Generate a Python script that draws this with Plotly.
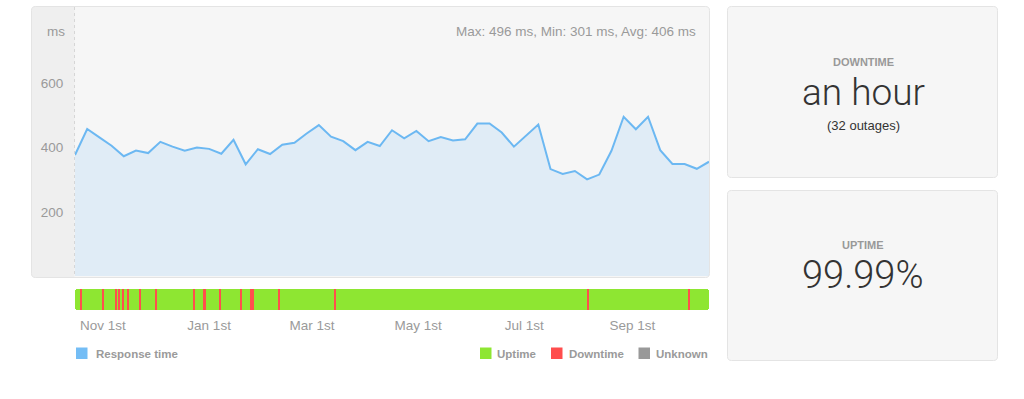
import plotly.graph_objects as go
import pandas as pd

W, H = 1024, 399

# ---------------- data ----------------
start_date = "2018-10-16"
end_date = "2019-10-15"
response_ms = [377, 458, 432, 406, 373, 391, 383, 418, 403, 390, 400, 396, 381, 424,
               348, 395, 380, 409, 415, 444, 470, 434, 420, 392, 418, 405, 454, 429,
               452, 420, 433, 422, 426, 475, 475, 447, 403, 439, 472, 333, 318, 327,
               301, 316, 390, 496, 457, 496, 392, 349, 349, 334, 356]
week_dates = pd.date_range(start_date, periods=len(response_ms), freq="7D")

downtime_times = ["2018-10-19", "2018-11-01", "2018-11-08", "2018-11-10", "2018-11-12",
                  "2018-11-15", "2018-11-22", "2018-12-01", "2018-12-23", "2018-12-29 00:00",
                  "2018-12-29 14:00", "2019-01-07", "2019-01-19", "2019-01-25 00:00",
                  "2019-01-25 20:00", "2019-02-10", "2019-03-14", "2019-08-06", "2019-10-03"]

tick_dates = ["2018-11-01", "2019-01-01", "2019-03-01", "2019-05-01", "2019-07-01", "2019-09-01"]
tick_labels = ["Nov 1st", "Jan 1st", "Mar 1st", "May 1st", "Jul 1st", "Sep 1st"]
y_ticks = [200, 400, 600]

downtime_label = "an hour"
outages = 32
uptime_pct = "99.99%"

# ---------------- style ----------------
FONT = "Liberation Sans, Arial, sans-serif"
BIG_FONT = "Roboto, Liberation Sans, sans-serif"
GRAY = "#9a9a9a"
LINE = "#6cb8f2"
FILL = "#e0ecf6"
GREEN = "#8ee632"
RED = "#ff4d4d"
MARK_DAYS = 0.6
DAY_MS = 86400000


def px(x):
    return x / W


def py(y):
    return 1 - y / H


def P(x, y):
    return f"{px(x):.5f},{py(y):.5f}"


def rrect(x0, y0, x1, y1, r):
    return (f"M{P(x0 + r, y0)} L{P(x1 - r, y0)} Q{P(x1, y0)} {P(x1, y0 + r)} "
            f"L{P(x1, y1 - r)} Q{P(x1, y1)} {P(x1 - r, y1)} L{P(x0 + r, y1)} "
            f"Q{P(x0, y1)} {P(x0, y1 - r)} L{P(x0, y0 + r)} Q{P(x0, y0)} {P(x0 + r, y0)} Z")


def lrect(x0, y0, x1, y1, r):
    return (f"M{P(x0 + r, y0)} L{P(x1, y0)} L{P(x1, y1)} L{P(x0 + r, y1)} "
            f"Q{P(x0, y1)} {P(x0, y1 - r)} L{P(x0, y0 + r)} Q{P(x0, y0)} {P(x0 + r, y0)} Z")


fig = go.Figure()

# response time area
fig.add_trace(go.Scatter(
    x=week_dates, y=response_ms, mode="lines", fill="tozeroy",
    line=dict(color=LINE, width=2), fillcolor=FILL,
    xaxis="x", yaxis="y", showlegend=False, hoverinfo="x+y"))

# uptime bar
span_ms = (pd.Timestamp(end_date) - pd.Timestamp(start_date)).total_seconds() * 1000
fig.add_trace(go.Bar(
    y=[0], base=[start_date], x=[span_ms], orientation="h", width=1,
    marker=dict(color=GREEN, line=dict(width=0), cornerradius=3),
    xaxis="x2", yaxis="y2", showlegend=False, hoverinfo="skip"))
fig.add_trace(go.Bar(
    y=[0] * len(downtime_times), base=downtime_times,
    x=[MARK_DAYS * DAY_MS] * len(downtime_times), orientation="h", width=1,
    marker=dict(color=RED, line=dict(width=0)),
    xaxis="x2", yaxis="y2", showlegend=False, hoverinfo="skip"))

shapes = []
# chart panel
shapes.append(dict(type="path", xref="paper", yref="paper", path=rrect(31.5, 6.5, 709.5, 277.5, 4),
                   fillcolor="#f6f6f6", line=dict(width=0), layer="below"))
shapes.append(dict(type="path", xref="paper", yref="paper", path=lrect(31.5, 6.5, 74.5, 277.5, 4),
                   fillcolor="#efefef", line=dict(width=0), layer="below"))
shapes.append(dict(type="line", xref="paper", yref="paper", x0=px(74.5), x1=px(74.5),
                   y0=py(7), y1=py(277), line=dict(color="#d6d6d6", width=1, dash="dot"),
                   layer="below"))
shapes.append(dict(type="path", xref="paper", yref="paper", path=rrect(31.5, 6.5, 709.5, 277.5, 4),
                   fillcolor="rgba(0,0,0,0)", line=dict(color="#e4e4e4", width=1), layer="above"))
# right panels
for (y0, y1) in [(6.5, 177.5), (190.5, 360.5)]:
    shapes.append(dict(type="path", xref="paper", yref="paper", path=rrect(727.5, y0, 997.5, y1, 4),
                       fillcolor="#f6f6f6", line=dict(color="#e4e4e4", width=1), layer="below"))
# legend squares
for (x0, c) in [(76, "#74bdf5"), (480, GREEN), (551, RED), (638.5, "#999999")]:
    shapes.append(dict(type="rect", xref="paper", yref="paper", x0=px(x0), x1=px(x0 + 11.5),
                       y0=py(359), y1=py(347.5), fillcolor=c, line=dict(width=0)))

ann = []


def txt(t, x, y, size, color=GRAY, xanchor="center", bold=False, family=FONT, weight=None):
    f = dict(family=family, size=size, color=color)
    if weight is not None:
        f["weight"] = weight
    ann.append(dict(text=f"<b>{t}</b>" if bold else t, x=px(x), y=py(y), xref="paper", yref="paper",
                    xanchor=xanchor, yanchor="middle", showarrow=False, font=f))


stats = f"Max: {max(response_ms)} ms, Min: {min(response_ms)} ms, Avg: {round(sum(response_ms) / len(response_ms))} ms"
txt(stats, 698, 31, 13.5, xanchor="right")
txt("ms", 67, 31, 13.5, xanchor="right")

txt("Response time", 94, 353.5, 11.5, xanchor="left", bold=True)
txt("Uptime", 495, 353.5, 11.5, xanchor="left", bold=True)
txt("Downtime", 567, 353.5, 11.5, xanchor="left", bold=True)
txt("Unknown", 654, 353.5, 11.5, xanchor="left", bold=True)

txt("DOWNTIME", 863, 62, 11, color="#999999", bold=True)
txt(downtime_label, 863, 93, 37, color="#333333", family=BIG_FONT, weight=300)
txt(f"({outages} outages)", 863, 125.5, 13, color="#333333")
txt("UPTIME", 863, 244.5, 11, color="#999999", bold=True)
txt(uptime_pct, 863, 274.5, 38, color="#333333", family=BIG_FONT, weight=300)

fig.update_layout(
    width=W, height=H, margin=dict(l=0, r=0, t=0, b=0),
    paper_bgcolor="white", plot_bgcolor="rgba(0,0,0,0)",
    barmode="overlay", bargap=0, showlegend=False,
    shapes=shapes, annotations=ann,
    font=dict(family=FONT, color=GRAY),
    xaxis=dict(domain=[px(75), px(709)], range=[start_date, end_date], type="date",
               showgrid=False, zeroline=False, showline=False, showticklabels=False,
               anchor="y"),
    yaxis=dict(domain=[py(276), py(7)], range=[0, 838], showgrid=False, zeroline=False,
               showline=False, tickvals=y_ticks, ticks="outside", ticklen=8,
               tickcolor="rgba(0,0,0,0)", tickfont=dict(family=FONT, size=13.5, color=GRAY),
               anchor="x"),
    xaxis2=dict(domain=[px(75), px(709)], range=[start_date, end_date], type="date",
                showgrid=False, zeroline=False, showline=False,
                tickvals=tick_dates, ticktext=tick_labels, ticks="outside", ticklen=3,
                tickcolor="rgba(0,0,0,0)", tickfont=dict(family=FONT, size=13.5, color=GRAY),
                anchor="y2"),
    yaxis2=dict(domain=[py(310), py(289)], range=[-0.5, 0.5], visible=False, anchor="x2"),
)

fig.write_html("out.html", config={"displayModeBar": False},
               post_script="document.body.style.margin='0';document.body.style.overflow='hidden';")
